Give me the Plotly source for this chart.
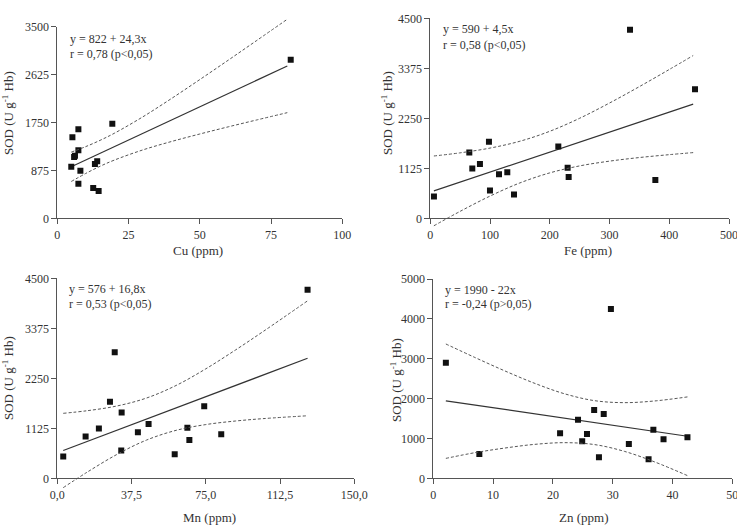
import plotly.graph_objects as go

W, H = 737, 529

# ---------------- data ----------------
sod_label = "SOD (U g<sup>-1</sup> Hb)"

# Cu panel
cu_x = [81.9, 19.3, 7.4, 5.3, 7.4, 6.2, 5.9, 4.9, 8.1, 14.0, 13.2, 7.4, 12.6, 14.5]
cu_y = [2897, 1728, 1626, 1480, 1242, 1144, 1120, 943, 870, 1041, 992, 632, 553, 499]
cu_fit_x = [4.9, 80.7]
cu_fit_y = [941, 2783]
cu_band_x = [4.9, 10, 15, 20, 30, 40, 50, 60, 70, 80.7]
cu_band_up = [1209, 1310, 1424, 1553, 1853, 2186, 2534, 2889, 3249, 3636]
cu_band_lo = [673, 820, 950, 1063, 1249, 1402, 1540, 1671, 1797, 1930]
cu_text = ["y = 822 + 24,3x", "r = 0,78 (p<0,05)"]

# Fe panel
fe_x = [334.3, 443.1, 98.2, 214.3, 65.3, 83.1, 70.3, 229.9, 115.0, 128.9, 231.6, 376.7, 99.9, 140.1, 6.1]
fe_y = [4245, 2903, 1725, 1613, 1478, 1223, 1118, 1140, 990, 1035, 930, 863, 623, 533, 488]
fe_fit_x = [6, 440]
fe_fit_y = [617, 2570]
fe_band_x = [6, 50, 100, 150, 200, 250, 300, 350, 400, 440]
fe_band_up = [1402, 1473, 1580, 1734, 1958, 2251, 2594, 2963, 3348, 3662]
fe_band_lo = [-168, 157, 500, 796, 1022, 1179, 1286, 1367, 1432, 1478]
fe_text = ["y = 590 + 4,5x", "r = 0,58 (p<0,05)"]

# Mn panel
mn_x = [126.4, 29.0, 26.6, 32.5, 21.0, 14.3, 3.0, 32.3, 40.7, 46.1, 59.3, 65.7, 66.7, 74.2, 82.8]
mn_y = [4245, 2835, 1725, 1478, 1118, 938, 488, 623, 1035, 1223, 540, 1140, 863, 1620, 990]
mn_fit_x = [3, 126.4]
mn_fit_y = [626, 2700]
mn_band_x = [3, 15, 30, 45, 60, 75, 90, 105, 126.4]
mn_band_up = [1462, 1520, 1626, 1805, 2089, 2463, 2887, 3334, 3993]
mn_band_lo = [-210, 136, 534, 859, 1079, 1209, 1289, 1346, 1407]
mn_text = ["y = 576 + 16,8x", "r = 0,53 (p<0,05)"]

# Zn panel
zn_x = [29.7, 2.1, 26.9, 28.5, 24.2, 36.8, 21.2, 25.7, 42.5, 38.5, 24.9, 32.7, 7.7, 27.7, 36.0]
zn_y = [4247, 2901, 1714, 1614, 1472, 1221, 1129, 1112, 1028, 978, 928, 861, 610, 527, 477]
zn_fit_x = [2.1, 42.5]
zn_fit_y = [1944, 1055]
zn_band_x = [2.1, 7, 12, 17, 22, 27, 32, 37, 42.5]
zn_band_up = [3370, 3028, 2692, 2380, 2118, 1947, 1898, 1940, 2042]
zn_band_lo = [500, 644, 760, 852, 894, 845, 674, 412, 68]
zn_text = ["y = 1990 - 22x", "r = -0,24 (p>0,05)"]

# axis ticks
cu_xticks = [0, 25, 50, 75, 100]
cu_yticks = [0, 875, 1750, 2625, 3500]
fe_xticks = [0, 100, 200, 300, 400, 500]
fe_yticks = [0, 1125, 2250, 3375, 4500]
mn_xticks = [0, 37.5, 75, 112.5, 150]
mn_xticktext = ["0,0", "37,5", "75,0", "112,5", "150,0"]
mn_yticks = [0, 1125, 2250, 3375, 4500]
zn_xticks = [0, 10, 20, 30, 40, 50]
zn_yticks = [0, 1000, 2000, 3000, 4000, 5000]

# ---------------- layout geometry (pixels) ----------------
FONT = "Times New Roman, Liberation Serif, serif"
AX = "#555555"
TXT = "#333333"

def px(x):
    return x / W

def py(y):
    return 1 - y / H

panels = [
    dict(name="Cu (ppm)", x=cu_x, y=cu_y, fx=cu_fit_x, fy=cu_fit_y,
         bx=cu_band_x, bu=cu_band_up, bl=cu_band_lo, text=cu_text,
         box=(57.3, 342.3, 26.7, 218.3), xr=(0, 100), yr=(0, 3500),
         xt=cu_xticks, xtt=None, yt=cu_yticks,
         tpos=(67.5, 39, 54), xtitle=(198, 250), ytitle=(8, 113)),
    dict(name="Fe (ppm)", x=fe_x, y=fe_y, fx=fe_fit_x, fy=fe_fit_y,
         bx=fe_band_x, bu=fe_band_up, bl=fe_band_lo, text=fe_text,
         box=(430.3, 729.0, 18.3, 218.3), xr=(0, 500), yr=(0, 4500),
         xt=fe_xticks, xtt=None, yt=fe_yticks,
         tpos=(441, 29.5, 45), xtitle=(588, 250), ytitle=(387, 113)),
    dict(name="Mn (ppm)", x=mn_x, y=mn_y, fx=mn_fit_x, fy=mn_fit_y,
         bx=mn_band_x, bu=mn_band_up, bl=mn_band_lo, text=mn_text,
         box=(57.3, 354.3, 278.3, 478.3), xr=(0, 150), yr=(0, 4500),
         xt=mn_xticks, xtt=mn_xticktext, yt=mn_yticks,
         tpos=(66.7, 289, 304.5), xtitle=(209, 517.5), ytitle=(8, 378)),
    dict(name="Zn (ppm)", x=zn_x, y=zn_y, fx=zn_fit_x, fy=zn_fit_y,
         bx=zn_band_x, bu=zn_band_up, bl=zn_band_lo, text=zn_text,
         box=(433.3, 732.3, 279.0, 478.3), xr=(0, 50), yr=(0, 5000),
         xt=zn_xticks, xtt=None, yt=zn_yticks,
         tpos=(443.3, 289.5, 304.5), xtitle=(583, 517.5), ytitle=(396, 380)),
]

fig = go.Figure()
layout = dict(width=W, height=H,
              margin=dict(l=0, r=0, t=0, b=0, pad=0, autoexpand=False),
              paper_bgcolor="white", plot_bgcolor="rgba(0,0,0,0)",
              showlegend=False, font=dict(family=FONT, size=12, color=TXT))
annotations = []
EXT = 16  # extra pixels for the band subplot so curves may run past the axes

for i, p in enumerate(panels):
    k = i + 1
    kb = i + 5
    x0, x1, yt0, yb0 = p["box"]
    xa = "xaxis" if k == 1 else f"xaxis{k}"
    ya = "yaxis" if k == 1 else f"yaxis{k}"
    xref = "x" if k == 1 else f"x{k}"
    yref = "y" if k == 1 else f"y{k}"

    tick_common = dict(showline=True, linecolor=AX, linewidth=1, ticks="outside",
                       ticklen=5, tickwidth=1, tickcolor=AX, showgrid=False,
                       zeroline=False, fixedrange=True, automargin=False,
                       ticklabeloverflow="allow",
                       tickfont=dict(family=FONT, size=12, color=TXT))
    xdict = dict(domain=[px(x0), px(x1)], range=list(p["xr"]), anchor=yref,
                 tickvals=p["xt"], **tick_common)
    if p["xtt"] is not None:
        xdict["ticktext"] = p["xtt"]
    layout[xa] = xdict
    layout[ya] = dict(domain=[py(yb0), py(yt0)], range=list(p["yr"]), anchor=xref,
                      tickvals=p["yt"], **tick_common)

    # hidden band axes with extended vertical domain (same scale)
    upp = (p["yr"][1] - p["yr"][0]) / (yb0 - yt0)
    et = min(EXT, yt0 - 0.5)
    eb = min(EXT, H - yb0 - 0.5)
    layout[f"xaxis{kb}"] = dict(domain=[px(x0), px(x1)], range=list(p["xr"]),
                                anchor=f"y{kb}", visible=False, fixedrange=True)
    layout[f"yaxis{kb}"] = dict(domain=[py(yb0 + eb), py(yt0 - et)],
                                range=[p["yr"][0] - eb * upp, p["yr"][1] + et * upp],
                                anchor=f"x{kb}", visible=False, fixedrange=True)

    for band in (p["bu"], p["bl"]):
        fig.add_trace(go.Scatter(x=p["bx"], y=band, mode="lines",
                                 line=dict(color="#555555", width=1, dash="3px,2px",
                                           shape="spline", smoothing=1.0),
                                 xaxis=f"x{kb}", yaxis=f"y{kb}", hoverinfo="skip"))
    fig.add_trace(go.Scatter(x=p["fx"], y=p["fy"], mode="lines",
                             line=dict(color="#333333", width=1.2),
                             xaxis=xref, yaxis=yref, hoverinfo="skip"))
    fig.add_trace(go.Scatter(x=p["x"], y=p["y"], mode="markers",
                             marker=dict(symbol="square", size=6, color="#111111"),
                             xaxis=xref, yaxis=yref))

    tx, l1, l2 = p["tpos"]
    for line_txt, yy in zip(p["text"], (l1, l2)):
        annotations.append(dict(text=line_txt.replace("<", "&lt;").replace(">", "&gt;"),
                                x=px(tx), y=py(yy), xref="paper", yref="paper",
                                xanchor="left", yanchor="middle", showarrow=False,
                                font=dict(family=FONT, size=12, color=TXT)))
    annotations.append(dict(text=p["name"], x=px(p["xtitle"][0]), y=py(p["xtitle"][1]),
                            xref="paper", yref="paper", xanchor="center", yanchor="middle",
                            showarrow=False, font=dict(family=FONT, size=13, color=TXT)))
    annotations.append(dict(text=sod_label, x=px(p["ytitle"][0]), y=py(p["ytitle"][1]),
                            xref="paper", yref="paper", xanchor="center", yanchor="middle",
                            textangle=-90, showarrow=False,
                            font=dict(family=FONT, size=13, color=TXT)))

layout["annotations"] = annotations
fig.update_layout(**layout)
fig.write_html(
    "out.html",
    config={"displayModeBar": False, "staticPlot": True},
    post_script="document.body.style.margin='0px';document.body.style.overflow='hidden';",
)
